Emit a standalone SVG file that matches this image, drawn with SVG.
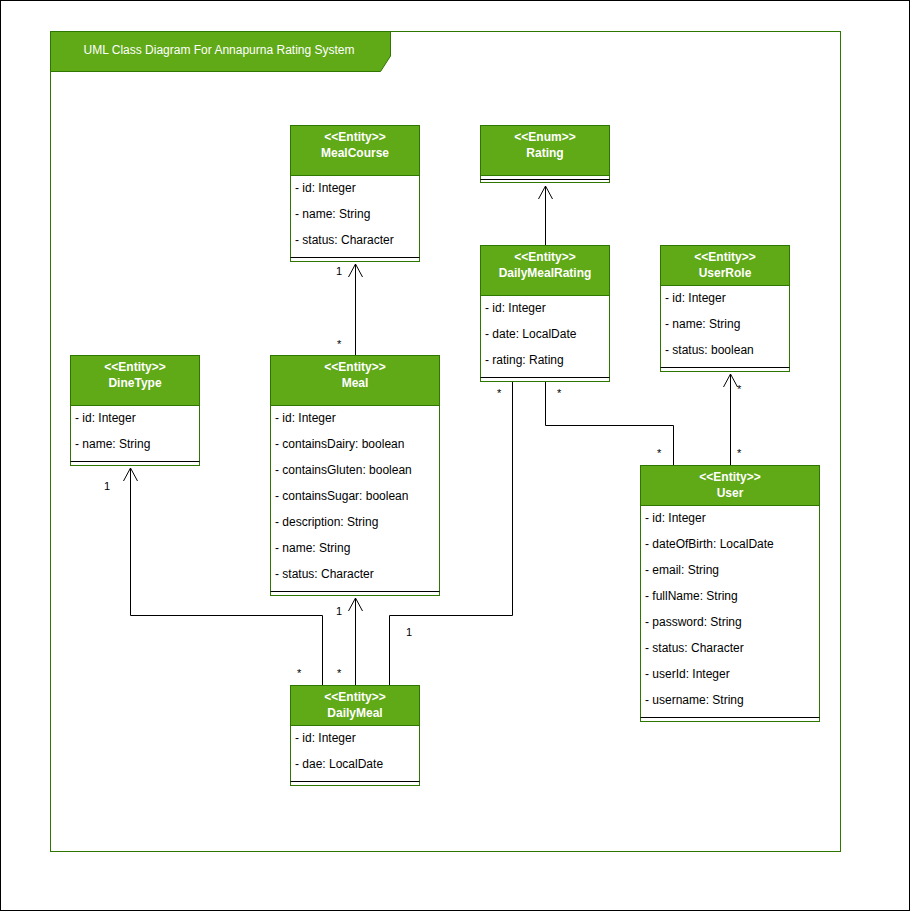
<svg xmlns="http://www.w3.org/2000/svg" width="911" height="912" viewBox="0 0 911 912">
<defs>
<style>
.hdr{fill:#60a917;stroke:#2d7600;stroke-width:1}
.body{fill:#ffffff;stroke:#2d7600;stroke-width:1}
.sep{stroke:#000;stroke-width:1}
.ht{font-family:"Liberation Sans",Arial,sans-serif;font-size:12px;font-weight:bold;fill:#fff;text-anchor:middle}
.at{font-family:"Liberation Sans",Arial,sans-serif;font-size:12px;fill:#000}
.lbl{font-family:"Liberation Sans",Arial,sans-serif;font-size:11px;fill:#000}
.ln{fill:none;stroke:#000;stroke-width:1}
</style>
<marker id="open" viewBox="0 0 16 16" refX="15" refY="8" markerWidth="16" markerHeight="16" markerUnits="userSpaceOnUse" orient="auto" overflow="visible">
<path d="M2,1 L15,8 L2,15" fill="none" stroke="#000" stroke-width="1"/>
</marker>
</defs>
<rect x="0.5" y="0.5" width="909" height="910" fill="#fff" stroke="#000"/>
<g id="frame">
<rect x="50.5" y="31.5" width="790" height="820" fill="none" stroke="#2d7600"/>
<polygon points="50.5,31.5 390.5,31.5 390.5,56 380.5,71.5 50.5,71.5" fill="#60a917" stroke="#2d7600"/>
<text x="219" y="54" class="ht" style="font-weight:normal">UML Class Diagram For Annapurna Rating System</text>
</g>
<g id="connectors">
<path class="ln" d="M355.5,355 L355.5,264" marker-end="url(#open)"/>
<path class="ln" d="M545.5,245 L545.5,186" marker-end="url(#open)"/>
<path class="ln" d="M730.5,465 L730.5,374" marker-end="url(#open)"/>
<path class="ln" d="M545.5,381 L545.5,425.5 L673.5,425.5 L673.5,465"/>
<path class="ln" d="M389.5,685 L389.5,615.5 L512.5,615.5 L512.5,381"/>
<path class="ln" d="M355.5,685 L355.5,598" marker-end="url(#open)"/>
<path class="ln" d="M322.5,685 L322.5,615.5 L130.5,615.5 L130.5,468" marker-end="url(#open)"/>
<text class="lbl" x="336" y="275">1</text>
<text class="lbl" x="337" y="348">*</text>
<text class="lbl" x="737" y="393">*</text>
<text class="lbl" x="737" y="457">*</text>
<text class="lbl" x="557" y="397">*</text>
<text class="lbl" x="657" y="457">*</text>
<text class="lbl" x="497" y="397">*</text>
<text class="lbl" x="406" y="636">1</text>
<text class="lbl" x="336" y="615">1</text>
<text class="lbl" x="337" y="677">*</text>
<text class="lbl" x="104" y="490">1</text>
<text class="lbl" x="297" y="677">*</text>
</g>
<g id="MealCourse">
<rect class="body" x="290.5" y="125.5" width="129" height="136"/>
<rect class="hdr" x="290.5" y="125.5" width="129" height="50"/>
<line class="sep" x1="290.5" y1="257.5" x2="419.5" y2="257.5"/>
<text class="ht" x="355" y="141">&lt;&lt;Entity&gt;&gt;</text>
<text class="ht" x="355" y="157">MealCourse</text>
<text class="at" x="295" y="192">- id: Integer</text>
<text class="at" x="295" y="218">- name: String</text>
<text class="at" x="295" y="244">- status: Character</text>
</g>
<g id="Rating">
<rect class="body" x="480.5" y="125.5" width="129" height="57"/>
<rect class="hdr" x="480.5" y="125.5" width="129" height="50"/>
<line class="sep" x1="480.5" y1="179.5" x2="609.5" y2="179.5"/>
<text class="ht" x="545" y="141">&lt;&lt;Enum&gt;&gt;</text>
<text class="ht" x="545" y="157">Rating</text>
</g>
<g id="DailyMealRating">
<rect class="body" x="480.5" y="245.5" width="129" height="136"/>
<rect class="hdr" x="480.5" y="245.5" width="129" height="50"/>
<line class="sep" x1="480.5" y1="377.5" x2="609.5" y2="377.5"/>
<text class="ht" x="545" y="261">&lt;&lt;Entity&gt;&gt;</text>
<text class="ht" x="545" y="277">DailyMealRating</text>
<text class="at" x="485" y="312">- id: Integer</text>
<text class="at" x="485" y="338">- date: LocalDate</text>
<text class="at" x="485" y="364">- rating: Rating</text>
</g>
<g id="UserRole">
<rect class="body" x="660.5" y="245.5" width="129" height="126"/>
<rect class="hdr" x="660.5" y="245.5" width="129" height="40"/>
<line class="sep" x1="660.5" y1="367.5" x2="789.5" y2="367.5"/>
<text class="ht" x="725" y="261">&lt;&lt;Entity&gt;&gt;</text>
<text class="ht" x="725" y="277">UserRole</text>
<text class="at" x="665" y="302">- id: Integer</text>
<text class="at" x="665" y="328">- name: String</text>
<text class="at" x="665" y="354">- status: boolean</text>
</g>
<g id="DineType">
<rect class="body" x="70.5" y="355.5" width="129" height="110"/>
<rect class="hdr" x="70.5" y="355.5" width="129" height="50"/>
<line class="sep" x1="70.5" y1="461.5" x2="199.5" y2="461.5"/>
<text class="ht" x="135" y="371">&lt;&lt;Entity&gt;&gt;</text>
<text class="ht" x="135" y="387">DineType</text>
<text class="at" x="75" y="422">- id: Integer</text>
<text class="at" x="75" y="448">- name: String</text>
</g>
<g id="Meal">
<rect class="body" x="270.5" y="355.5" width="169" height="240"/>
<rect class="hdr" x="270.5" y="355.5" width="169" height="50"/>
<line class="sep" x1="270.5" y1="591.5" x2="439.5" y2="591.5"/>
<text class="ht" x="355" y="371">&lt;&lt;Entity&gt;&gt;</text>
<text class="ht" x="355" y="387">Meal</text>
<text class="at" x="275" y="422">- id: Integer</text>
<text class="at" x="275" y="448">- containsDairy: boolean</text>
<text class="at" x="275" y="474">- containsGluten: boolean</text>
<text class="at" x="275" y="500">- containsSugar: boolean</text>
<text class="at" x="275" y="526">- description: String</text>
<text class="at" x="275" y="552">- name: String</text>
<text class="at" x="275" y="578">- status: Character</text>
</g>
<g id="User">
<rect class="body" x="640.5" y="465.5" width="179" height="256"/>
<rect class="hdr" x="640.5" y="465.5" width="179" height="40"/>
<line class="sep" x1="640.5" y1="717.5" x2="819.5" y2="717.5"/>
<text class="ht" x="730" y="481">&lt;&lt;Entity&gt;&gt;</text>
<text class="ht" x="730" y="497">User</text>
<text class="at" x="645" y="522">- id: Integer</text>
<text class="at" x="645" y="548">- dateOfBirth: LocalDate</text>
<text class="at" x="645" y="574">- email: String</text>
<text class="at" x="645" y="600">- fullName: String</text>
<text class="at" x="645" y="626">- password: String</text>
<text class="at" x="645" y="652">- status: Character</text>
<text class="at" x="645" y="678">- userId: Integer</text>
<text class="at" x="645" y="704">- username: String</text>
</g>
<g id="DailyMeal">
<rect class="body" x="290.5" y="685.5" width="129" height="100"/>
<rect class="hdr" x="290.5" y="685.5" width="129" height="40"/>
<line class="sep" x1="290.5" y1="781.5" x2="419.5" y2="781.5"/>
<text class="ht" x="355" y="701">&lt;&lt;Entity&gt;&gt;</text>
<text class="ht" x="355" y="717">DailyMeal</text>
<text class="at" x="295" y="742">- id: Integer</text>
<text class="at" x="295" y="768">- dae: LocalDate</text>
</g>
</svg>
